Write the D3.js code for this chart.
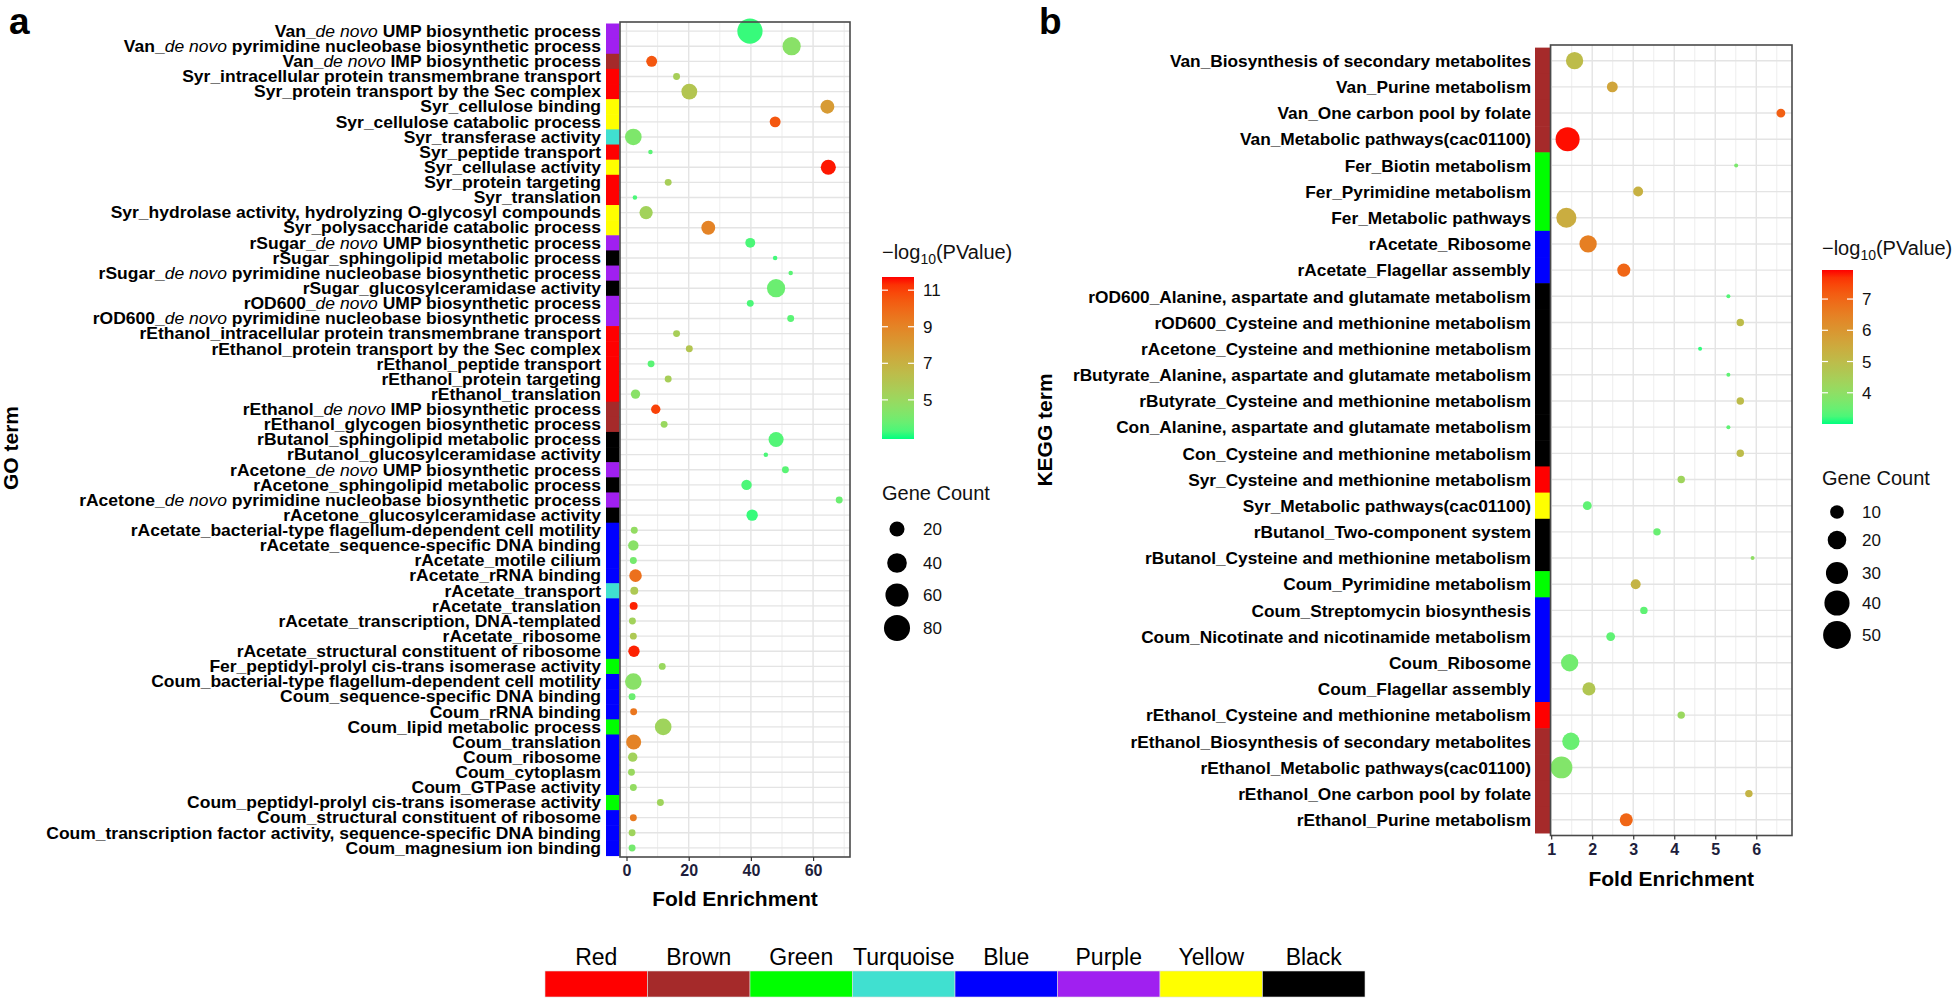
<!DOCTYPE html>
<html><head><meta charset="utf-8">
<script src="https://cdn.jsdelivr.net/npm/d3@7"></script>
<style>
body{margin:0;background:#fff;}
svg{display:block;font-family:"Liberation Sans",Arial,Helvetica,sans-serif;}
</style>
</head><body>
<svg id="chart" width="1959" height="998"></svg>
<script>
// ---------------- DATA ----------------
const moduleNames = ["Red","Brown","Green","Turquoise","Blue","Purple","Yellow","Black"];
const moduleColors = ["#FF0000","#A52A2A","#00FF00","#40E0D0","#0000FF","#A020F0","#FFFF00","#000000"];

const goTerms = [
"Van_de novo UMP biosynthetic process",
"Van_de novo pyrimidine nucleobase biosynthetic process",
"Van_de novo IMP biosynthetic process",
"Syr_intracellular protein transmembrane transport",
"Syr_protein transport by the Sec complex",
"Syr_cellulose binding",
"Syr_cellulose catabolic process",
"Syr_transferase activity",
"Syr_peptide transport",
"Syr_cellulase activity",
"Syr_protein targeting",
"Syr_translation",
"Syr_hydrolase activity, hydrolyzing O-glycosyl compounds",
"Syr_polysaccharide catabolic process",
"rSugar_de novo UMP biosynthetic process",
"rSugar_sphingolipid metabolic process",
"rSugar_de novo pyrimidine nucleobase biosynthetic process",
"rSugar_glucosylceramidase activity",
"rOD600_de novo UMP biosynthetic process",
"rOD600_de novo pyrimidine nucleobase biosynthetic process",
"rEthanol_intracellular protein transmembrane transport",
"rEthanol_protein transport by the Sec complex",
"rEthanol_peptide transport",
"rEthanol_protein targeting",
"rEthanol_translation",
"rEthanol_de novo IMP biosynthetic process",
"rEthanol_glycogen biosynthetic process",
"rButanol_sphingolipid metabolic process",
"rButanol_glucosylceramidase activity",
"rAcetone_de novo UMP biosynthetic process",
"rAcetone_sphingolipid metabolic process",
"rAcetone_de novo pyrimidine nucleobase biosynthetic process",
"rAcetone_glucosylceramidase activity",
"rAcetate_bacterial-type flagellum-dependent cell motility",
"rAcetate_sequence-specific DNA binding",
"rAcetate_motile cilium",
"rAcetate_rRNA binding",
"rAcetate_transport",
"rAcetate_translation",
"rAcetate_transcription, DNA-templated",
"rAcetate_ribosome",
"rAcetate_structural constituent of ribosome",
"Fer_peptidyl-prolyl cis-trans isomerase activity",
"Coum_bacterial-type flagellum-dependent cell motility",
"Coum_sequence-specific DNA binding",
"Coum_rRNA binding",
"Coum_lipid metabolic process",
"Coum_translation",
"Coum_ribosome",
"Coum_cytoplasm",
"Coum_GTPase activity",
"Coum_peptidyl-prolyl cis-trans isomerase activity",
"Coum_structural constituent of ribosome",
"Coum_transcription factor activity, sequence-specific DNA binding",
"Coum_magnesium ion binding"];

const goModules = ["Purple","Purple","Brown","Red","Red","Yellow","Yellow","Turquoise","Red","Yellow",
"Red","Red","Yellow","Yellow","Purple","Black","Purple","Black","Purple","Purple",
"Red","Red","Red","Red","Red","Brown","Brown","Black","Black","Purple",
"Black","Purple","Black","Blue","Blue","Blue","Blue","Turquoise","Blue","Blue",
"Blue","Blue","Green","Blue","Blue","Blue","Green","Blue","Blue","Blue",
"Blue","Green","Blue","Blue","Blue"];

const goFold = [39.7,53.1,8.1,16.1,20.2,64.6,47.8,2.2,7.7,64.9,
13.4,2.7,6.3,26.3,39.8,47.8,52.8,48.1,39.8,52.8,
16.1,20.2,7.9,13.4,2.9,9.4,12.1,48.1,44.8,51.1,
38.6,68.4,40.4,2.5,2.2,2.2,2.9,2.5,2.3,1.9,
2.2,2.4,11.5,2.2,1.8,2.3,11.8,2.3,2.0,1.6,
2.2,10.9,2.2,1.8,1.8];

const goCount = [74,33,8,2,23,16,8,26,1,20,
2,1,14,16,6,1,1,33,2,2,
2,2,2,2,5,5,2,20,1,2,
7,2,9,2,7,2,12,3,3,2,
2,9,2,26,2,2,26,20,5,2,
2,2,2,2,2];

const goLogP = [3.1,4.5,10.5,5.5,6.0,8.0,10.5,4.2,3.5,11.6,
5.5,3.3,5.3,9.0,3.3,3.2,3.5,3.8,3.3,3.5,
5.5,6.0,3.5,5.5,4.5,11.0,5.0,3.4,3.3,3.5,
3.3,3.8,3.1,4.8,4.5,4.0,9.7,5.8,11.5,5.3,
5.8,11.5,5.0,4.5,3.8,9.5,5.2,9.0,5.3,5.0,
4.8,5.2,9.3,5.2,4.0];

const keggTerms = [
"Van_Biosynthesis of secondary metabolites",
"Van_Purine metabolism",
"Van_One carbon pool by folate",
"Van_Metabolic pathways(cac01100)",
"Fer_Biotin metabolism",
"Fer_Pyrimidine metabolism",
"Fer_Metabolic pathways",
"rAcetate_Ribosome",
"rAcetate_Flagellar assembly",
"rOD600_Alanine, aspartate and glutamate metabolism",
"rOD600_Cysteine and methionine metabolism",
"rAcetone_Cysteine and methionine metabolism",
"rButyrate_Alanine, aspartate and glutamate metabolism",
"rButyrate_Cysteine and methionine metabolism",
"Con_Alanine, aspartate and glutamate metabolism",
"Con_Cysteine and methionine metabolism",
"Syr_Cysteine and methionine metabolism",
"Syr_Metabolic pathways(cac01100)",
"rButanol_Two-component system",
"rButanol_Cysteine and methionine metabolism",
"Coum_Pyrimidine metabolism",
"Coum_Streptomycin biosynthesis",
"Coum_Nicotinate and nicotinamide metabolism",
"Coum_Ribosome",
"Coum_Flagellar assembly",
"rEthanol_Cysteine and methionine metabolism",
"rEthanol_Biosynthesis of secondary metabolites",
"rEthanol_Metabolic pathways(cac01100)",
"rEthanol_One carbon pool by folate",
"rEthanol_Purine metabolism"];

const keggModules = ["Brown","Brown","Brown","Brown","Green","Green","Green","Blue","Blue","Black",
"Black","Black","Black","Black","Black","Black","Red","Yellow","Black","Black",
"Green","Blue","Blue","Blue","Blue","Red","Brown","Brown","Brown","Brown"];

const keggFold = [1.57,2.49,6.60,1.40,5.51,3.12,1.37,1.90,2.77,5.32,
5.61,4.63,5.32,5.61,5.32,5.61,4.17,1.88,3.58,5.91,
3.06,3.26,2.45,1.45,1.92,4.17,1.48,1.25,5.82,2.83];

const keggCount = [17,6,4,36,2,5,24,17,9,2,
3,2,2,3,2,3,3,4,3,2,
5,3,4,17,9,3,17,29,3,9];

const keggLogP = [5.0,5.6,7.1,7.9,3.7,5.3,5.4,6.5,7.0,3.3,
5.0,3.1,3.4,5.0,3.4,5.0,4.3,3.4,3.5,4.0,
5.2,3.4,3.4,3.6,4.7,4.2,3.5,3.8,5.2,7.0];

// axis / legend breaks
const goXDomain = [-2.09, 71.87];
const goMajorTicks = [0,20,40,60];
const goMinorTicks = [10,30,50,70];
const goColorDomain = [2.86, 11.72];
const goColorBreaks = [5,7,9,11];
const goCountRange = [1, 87];
const goSizeBreaks = [20,40,60,80];

const keggXDomain = [0.983, 6.871];
const keggMajorTicks = [1,2,3,4,5,6];
const keggMinorTicks = [1.5,2.5,3.5,4.5,5.5,6.5];
const keggColorDomain = [3.0, 7.93];
const keggColorBreaks = [4,5,6,7];
const keggCountRange = [2, 55];
const keggSizeBreaks = [10,20,30,40,50];

// ---------------- DRAWING ----------------
const svg = d3.select("#chart");
const defs = svg.append("defs");
const modColor = d3.scaleOrdinal().domain(moduleNames).range(moduleColors);
const FONT = '"Liberation Sans",Arial,Helvetica,sans-serif';

function addLabelText(sel, text) {
  const parts = text.split(/(de novo)/);
  parts.forEach(p => {
    if (!p) return;
    const t = sel.append("tspan").text(p);
    if (p === "de novo") t.attr("font-style","italic").attr("font-weight","normal");
  });
}

function drawPanel(o) {
  const g = svg.append("g");
  const x = d3.scaleLinear().domain(o.xDomain).range([o.left, o.right]);
  const y = d3.scalePoint().domain(o.terms).range([o.top, o.bottom]).padding(0.6);
  const step = y.step();
  const color = d3.scaleLinear().domain(o.colorDomain).range(["#00FF7F","#FF0000"]).interpolate(d3.interpolateLab).clamp(true);
  const size = d3.scaleSqrt().domain([0, o.countRange[1]-o.countRange[0]]).range(o.radiusRange);
  const radius = c => size(Math.max(0, c - o.countRange[0]));

  g.append("rect").attr("x",o.left).attr("y",o.top).attr("width",o.right-o.left).attr("height",o.bottom-o.top).attr("fill","#fff");
  g.selectAll("line.minor").data(o.minor).join("line").attr("class","minor")
    .attr("x1",d=>x(d)).attr("x2",d=>x(d)).attr("y1",o.top).attr("y2",o.bottom)
    .attr("stroke","#EFEFEF").attr("stroke-width",1.1);
  g.selectAll("line.majv").data(o.major).join("line").attr("class","majv")
    .attr("x1",d=>x(d)).attr("x2",d=>x(d)).attr("y1",o.top).attr("y2",o.bottom)
    .attr("stroke","#E4E4E4").attr("stroke-width",1.4);
  g.selectAll("line.majh").data(o.terms).join("line").attr("class","majh")
    .attr("x1",o.left).attr("x2",o.right).attr("y1",d=>y(d)).attr("y2",d=>y(d))
    .attr("stroke","#E4E4E4").attr("stroke-width",1.4);

  g.selectAll("rect.strip").data(o.terms).join("rect").attr("class","strip")
    .attr("x",o.stripX).attr("width",o.stripW)
    .attr("y",d=>y(d)-step/2).attr("height",step+0.6)
    .attr("fill",(d,i)=>modColor(o.modules[i]));

  g.selectAll("text.term").data(o.terms).join("text").attr("class","term")
    .attr("transform",d=>`translate(${o.labelX},${y(d)}) scale(${o.labelScaleX},1)`)
    .attr("x",0).attr("y",0).attr("dy","0.36em")
    .attr("text-anchor","end").attr("font-size",o.labelSize).attr("font-weight","bold").attr("fill","#000")
    .each(function(d){ addLabelText(d3.select(this), d); });

  const pts = o.terms.map((t,i)=>({t, f:o.fold[i], c:o.count[i], p:o.logp[i]}));
  g.selectAll("circle.dot").data(pts).join("circle").attr("class","dot")
    .attr("cx",d=>x(d.f)).attr("cy",d=>y(d.t)).attr("r",d=>radius(d.c))
    .attr("fill",d=>color(d.p));

  g.append("rect").attr("x",o.left).attr("y",o.top).attr("width",o.right-o.left).attr("height",o.bottom-o.top)
    .attr("fill","none").attr("stroke","#4a4a4a").attr("stroke-width",1.6);

  const ax = g.append("g").attr("transform",`translate(0,${o.bottom})`)
    .call(d3.axisBottom(x).tickValues(o.major).tickSize(4).tickPadding(4).tickFormat(d3.format("d")));
  ax.select(".domain").remove();
  ax.selectAll(".tick line").attr("stroke","#333").attr("stroke-width",1.2);
  ax.selectAll(".tick text").attr("font-family",FONT).attr("font-size",16).attr("font-weight","bold").attr("fill","#1e1e3c");

  g.append("text").attr("x",(o.left+o.right)/2).attr("y",o.xTitleY).attr("text-anchor","middle")
    .attr("font-size",21).attr("font-weight","bold").text("Fold Enrichment");
  g.append("text").attr("transform",`translate(${o.yTitleX},${o.yTitleY}) rotate(-90)`).attr("text-anchor","middle")
    .attr("font-size",21).attr("font-weight","bold").text(o.yTitle);

  g.append("text").attr("x",o.letterX).attr("y",o.letterY).attr("font-size",37).attr("font-weight","bold").text(o.letter);

  // ---- colour bar legend ----
  const L = o.legend;
  const gl = svg.append("g");
  const t = gl.append("text").attr("x",L.x).attr("y",L.titleY).attr("font-size",20).attr("fill","#111");
  t.append("tspan").text("\u2212log");
  t.append("tspan").attr("font-size",14).attr("dy",5).text("10");
  t.append("tspan").attr("dy",-5).text("(PValue)");
  const gid = "grad_"+o.letter;
  const grad = defs.append("linearGradient").attr("id",gid).attr("x1",0).attr("y1",1).attr("x2",0).attr("y2",0);
  d3.range(0,1.0001,0.05).forEach(s=>{
    grad.append("stop").attr("offset",s).attr("stop-color",color(o.colorDomain[0]+s*(o.colorDomain[1]-o.colorDomain[0])));
  });
  const cb = d3.scaleLinear().domain(o.colorDomain).range([L.barBottom, L.barTop]);
  gl.append("rect").attr("x",L.x).attr("y",L.barTop).attr("width",L.barW).attr("height",L.barBottom-L.barTop).attr("fill",`url(#${gid})`);
  o.colorBreaks.forEach(b=>{
    gl.append("line").attr("x1",L.x).attr("x2",L.x+6).attr("y1",cb(b)).attr("y2",cb(b)).attr("stroke","#fff").attr("stroke-width",1.2);
    gl.append("line").attr("x1",L.x+L.barW-6).attr("x2",L.x+L.barW).attr("y1",cb(b)).attr("y2",cb(b)).attr("stroke","#fff").attr("stroke-width",1.2);
    gl.append("text").attr("x",L.x+L.barW+9).attr("y",cb(b)).attr("dy","0.36em").attr("font-size",17).attr("fill","#111").text(b);
  });
  gl.append("text").attr("x",L.x).attr("y",L.sizeTitleY).attr("font-size",20).attr("fill","#111").text("Gene Count");
  o.sizeBreaks.forEach((b,i)=>{
    const yy = L.sizeY[i];
    gl.append("circle").attr("cx",L.x+L.dotDX).attr("cy",yy).attr("r",radius(b)).attr("fill","#000");
    gl.append("text").attr("x",L.x+L.labelDX).attr("y",yy).attr("dy","0.36em").attr("font-size",17).attr("fill","#111").text(b);
  });
}

drawPanel({
  letter:"a", letterX:9, letterY:34,
  terms:goTerms, modules:goModules, fold:goFold, count:goCount, logp:goLogP,
  xDomain:goXDomain, major:goMajorTicks, minor:goMinorTicks,
  colorDomain:goColorDomain, colorBreaks:goColorBreaks,
  countRange:goCountRange, radiusRange:[2.25,13.5], sizeBreaks:goSizeBreaks,
  left:620, right:850, top:22, bottom:857,
  stripX:606, stripW:13.5, labelX:601, labelSize:16, labelScaleX:1.094,
  xTitleY:906, yTitle:"GO term", yTitleX:18, yTitleY:448,
  legend:{x:882, titleY:259, barTop:277, barBottom:439, barW:32,
          sizeTitleY:500, sizeY:[529,563,595,628], dotDX:15, labelDX:41}
});

drawPanel({
  letter:"b", letterX:1039, letterY:34,
  terms:keggTerms, modules:keggModules, fold:keggFold, count:keggCount, logp:keggLogP,
  xDomain:keggXDomain, major:keggMajorTicks, minor:keggMinorTicks,
  colorDomain:keggColorDomain, colorBreaks:keggColorBreaks,
  countRange:keggCountRange, radiusRange:[2,14.5], sizeBreaks:keggSizeBreaks,
  left:1550.5, right:1792, top:45, bottom:835.5,
  stripX:1535, stripW:15, labelX:1531, labelSize:17.3, labelScaleX:1,
  xTitleY:886, yTitle:"KEGG term", yTitleX:1052, yTitleY:430,
  legend:{x:1822, titleY:255, barTop:270, barBottom:424, barW:31,
          sizeTitleY:485, sizeY:[512,540,573,603,635], dotDX:15, labelDX:40}
});

// ---------------- module colour key ----------------
const key = svg.append("g");
const kx = d3.scaleBand().domain(moduleNames).range([545,1365]);
key.selectAll("rect").data(moduleNames).join("rect")
  .attr("x",d=>kx(d)).attr("y",971).attr("width",kx.bandwidth()).attr("height",26)
  .attr("fill",d=>modColor(d)).attr("stroke","#ddd").attr("stroke-width",0.6);
key.selectAll("text").data(moduleNames).join("text")
  .attr("x",d=>kx(d)+kx.bandwidth()/2).attr("y",965).attr("text-anchor","middle")
  .attr("font-size",23).attr("fill","#000").text(d=>d);
</script>
</body></html>
